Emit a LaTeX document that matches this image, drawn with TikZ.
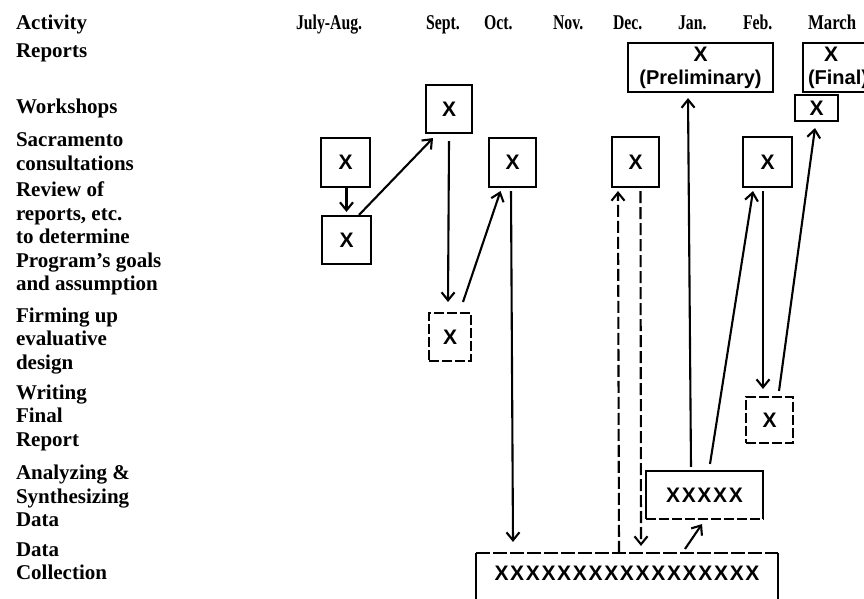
\documentclass[tikz,border=0pt]{standalone}
\usepackage{fontspec}
\setmainfont{Liberation Serif}
\newfontfamily\boxfont{Liberation Sans}
\newfontfamily\rowfont[LetterSpace=8]{Liberation Sans}
\usetikzlibrary{arrows.meta,calc}

\begin{document}
\begin{tikzpicture}[x=1pt,y=-1pt,line width=2.1pt,
    lbl/.style={anchor=west,align=left,inner sep=0pt,
      font=\bfseries\fontsize{21}{23.5}\selectfont},
    mon/.style={anchor=base west,inner sep=0pt,font=\bfseries\fontsize{21}{23.5}\selectfont},
    box/.style={draw,inner sep=0pt,align=center,
      font=\boxfont\bfseries\fontsize{21}{23}\selectfont},
    dbox/.style={box,dash pattern=on 10pt off 3pt},
    flow/.style={-{Straight Barb[length=8pt,width=13pt]}},
    dflow/.style={flow,dash pattern=on 12pt off 4pt}]
  \useasboundingbox (0,0) rectangle (864,598);

  %% ---- header row ----
  \node[mon] (hAct) at (15,29) {Activity};
  \node[mon] (mJul) at (295,29) {\scalebox{0.75}[1]{July-Aug.}};
  \node[mon] (mSep) at (425,29) {\scalebox{0.75}[1]{Sept.}};
  \node[mon] (mOct) at (483,29) {\scalebox{0.75}[1]{Oct.}};
  \node[mon] (mNov) at (552,29) {\scalebox{0.75}[1]{Nov.}};
  \node[mon] (mDec) at (612,29) {\scalebox{0.75}[1]{Dec.}};
  \node[mon] (mJan) at (677,29) {\scalebox{0.75}[1]{Jan.}};
  \node[mon] (mFeb) at (742,29) {\scalebox{0.75}[1]{Feb.}};
  \node[mon] (mMar) at (807,29) {\scalebox{0.8}[1]{March}};

  %% ---- activity column ----
  \node[lbl] (lRep) at (15,53) {Reports};
  \node[lbl] (lWs) at (15,108) {Workshops};
  \node[lbl] (lSac) at (15,151.5) {Sacramento\\consultations};
  \node[lbl] (lRev) at (15,238.5) {Review of\\reports, etc.\\to determine\\Program's goals\\and assumption};
  \node[lbl] (lFirm) at (15,341) {Firming up\\evaluative\\design};
  \node[lbl] (lWrite) at (15,417.5) {Writing\\Final\\Report};
  \node[lbl] (lAna) at (15,496) {Analyzing \&\\Synthesizing\\Data};
  \node[lbl] (lData) at (15,561) {Data\\Collection};

  %% ---- reports ----
  \node[box,minimum width=145pt,minimum height=49pt] (prelim) at (700.5,67.5)
    {X\\{\fontsize{20}{23}\selectfont(Preliminary)}};
  \node[box,minimum width=70pt,minimum height=49pt] (final) at (838,67.5)
    {X\hspace*{14pt}\\{\fontsize{20}{23}\selectfont(Final)}};

  %% ---- workshops ----
  \node[box,minimum width=46pt,minimum height=48pt] (wsSep) at (449,109) {X};
  \node[box,minimum width=43pt,minimum height=26pt] (wsMar) at (816.5,108) {X};

  %% ---- consultations, review, design, writing ----
  \node[box,minimum width=49pt,minimum height=49pt] (sacJul) at (345.5,162.5) {X};
  \node[box,minimum width=47pt,minimum height=49pt] (sacOct) at (512.5,162.5) {X};
  \node[box,minimum width=47pt,minimum height=50pt] (sacDec) at (635.5,162) {X};
  \node[box,minimum width=49pt,minimum height=50pt] (sacFeb) at (767.5,162) {X};
  \node[box,minimum width=49pt,minimum height=48pt] (revJul) at (346.5,240) {X};
  \node[dbox,minimum width=42pt,minimum height=48pt] (firmSep) at (450,337) {X};
  \node[dbox,minimum width=47pt,minimum height=46pt] (writeFeb) at (769.5,420) {X};

  %% ---- analysing and collecting data ----
  \node[minimum width=115pt,minimum height=46pt,inner sep=0pt,
    font=\rowfont\bfseries\fontsize{21}{23}\selectfont] (anaJan) at (704.5,495) {XXXXX};
  \draw (anaJan.south west) -- (anaJan.north west) -- (anaJan.north east) -- (anaJan.south east);
  \draw[dash pattern=on 10pt off 3pt] (anaJan.south west) -- (anaJan.south east);
  \node[minimum width=300pt,minimum height=38pt,inner sep=0pt,
    font=\rowfont\bfseries\fontsize{21}{23}\selectfont] (data) at (627,573) {XXXXXXXXXXXXXXXXX};
  \draw[dash pattern=on 14pt off 3pt] (data.north west) -- (data.north east);
  \draw (data.north west) -- ++(0,60);
  \draw (data.north east) -- ++(0,60);

  %% ---- connectors ----
  \draw[flow] ($(sacJul.south)+(1,0)$) -- ($(revJul.north)+(0,-3)$);
  \draw[flow] ($(revJul.north)+(12.5,0)$) -- ($(wsSep.south)+(-16,4)$);
  \draw[flow] ($(wsSep.south)+(0,7)$) -- ($(firmSep.north)+(-2,-10)$);
  \draw[flow] ($(firmSep.north)+(13,-10)$) -- ($(sacOct.south)+(-12,3)$);
  \draw[flow] ($(sacOct.south)+(-1.5,3)$) -- ($(sacOct.south |- data.north)+(0.5,-11)$);
  \draw[dflow] ($(data.north -| sacDec.south)+(-16.5,0)$) -- ($(sacDec.south)+(-17.5,3)$);
  \draw[dflow] ($(sacDec.south)+(5,3)$) -- ($(data.north -| sacDec.south)+(5.5,-7)$);
  \draw[flow] ($(data.north)+(58,-4)$) -- ($(anaJan.south)+(-2.5,5)$);
  \draw[flow] ($(anaJan.north)+(-13.5,-4)$) -- ($(prelim.south)+(-12.5,5)$);
  \draw[flow] ($(anaJan.north)+(5.5,-7)$) -- ($(sacFeb.south)+(-14.5,3)$);
  \draw[flow] ($(sacFeb.south)+(-4.5,3)$) -- ($(writeFeb.north)+(-6.5,-7)$);
  \draw[flow] ($(writeFeb.north)+(9.5,-5)$) -- ($(wsMar.south)+(-1.5,6)$);
\end{tikzpicture}
\end{document}
